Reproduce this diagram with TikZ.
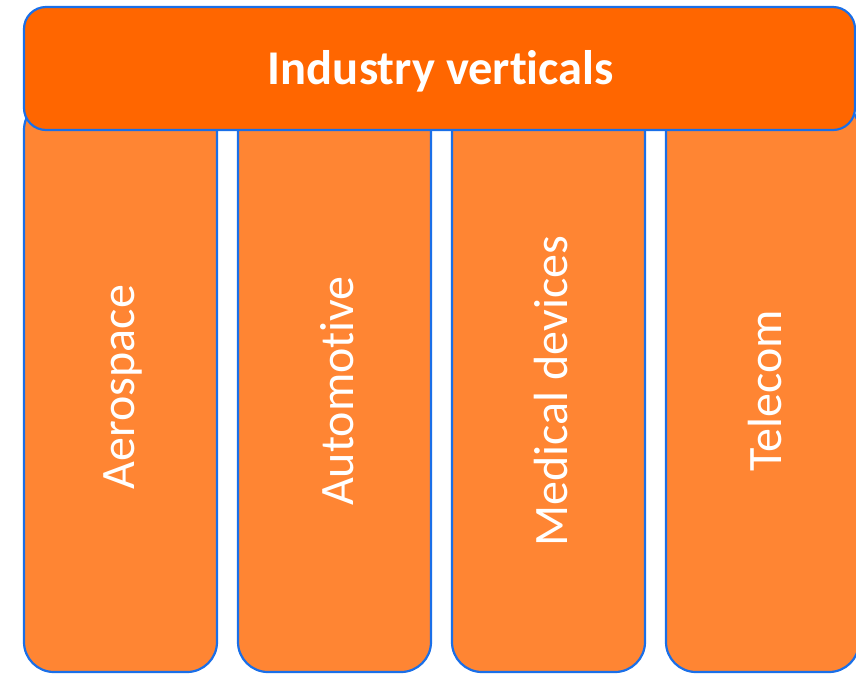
\documentclass[tikz,border=0pt]{standalone}
\usepackage{fontspec}
\setmainfont{Carlito}[Ligatures=NoCommon]
\definecolor{barorange}{HTML}{FF6600}
\definecolor{colorange}{HTML}{FF8533}
\definecolor{edgeblue}{HTML}{1A6FE8}
\begin{document}
\begin{tikzpicture}[x=1pt,y=-1pt,
  colbox/.style={draw=edgeblue,line width=2.2pt,fill=colorange,rounded corners=30pt},
  barbox/.style={draw=edgeblue,line width=2.2pt,fill=barorange,rounded corners=22pt},
  collabel/.style={text=white,font=\fontsize{48}{50}\selectfont,rotate=90},
  barlabel/.style={text=white,font=\fontsize{48.5}{52}\selectfont\bfseries}]
\useasboundingbox (0,0) rectangle (856,673);
\draw[colbox] (24,100) rectangle (217,672);
\draw[colbox] (238,100) rectangle (431,672);
\draw[colbox] (452,100) rectangle (645,672);
\draw[colbox] (666,100) rectangle (859,672);
\node[collabel] (aero) at (123,387) {Aerospace};
\node[collabel] (auto) at (337,391) {Automotive};
\node[collabel] (med) at (551,391) {Medical devices};
\node[collabel] (tel) at (765,391) {Telecom};
\draw[barbox] (24,7) rectangle (855,130);
\node[barlabel] (title) at (441,71) {Industry verticals};
\end{tikzpicture}
\end{document}
